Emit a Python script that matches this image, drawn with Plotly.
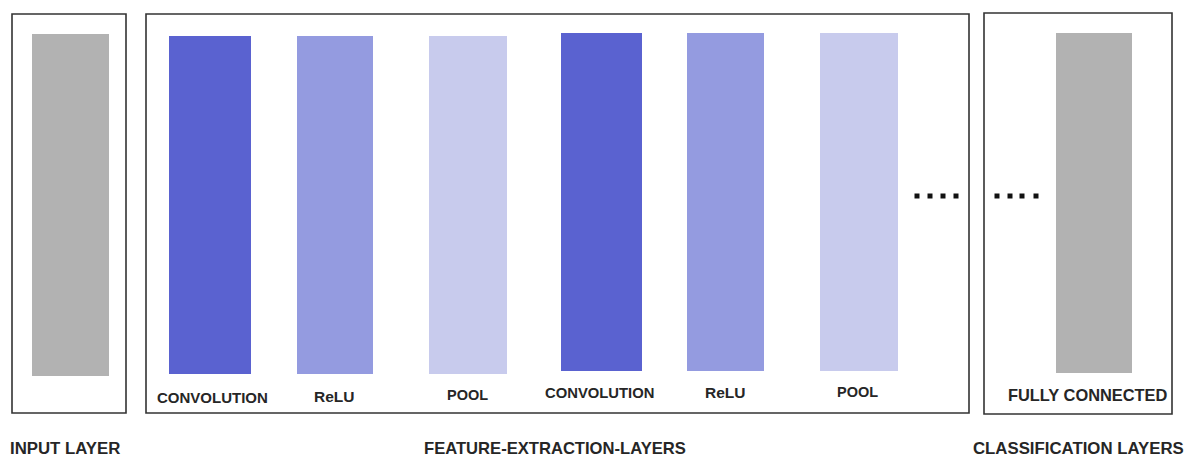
import plotly.graph_objects as go

# ---- data ----
layer_names = ["INPUT", "CONVOLUTION", "ReLU", "POOL", "CONVOLUTION", "ReLU", "POOL", "FULLY CONNECTED"]
layer_kind = ["input", "conv", "relu", "pool", "conv", "relu", "pool", "fc"]
bar_left = [32, 169, 297, 429, 561, 687, 820, 1056]
bar_right = [109, 251, 373, 507, 642, 764, 898, 1132]
bar_top = [34, 36, 36, 36, 33, 33, 33, 33]
bar_bottom = [376, 374, 374, 374, 371, 371, 371, 373]

label_text = ["CONVOLUTION", "ReLU", "POOL", "CONVOLUTION", "ReLU", "POOL", "FULLY CONNECTED"]
label_x = [212, 334, 467, 599, 725, 857, 1088]
label_y = [397, 396, 395, 393, 392, 392, 395]
label_size = [15, 15.5, 14.5, 14.8, 15.5, 14.5, 16.4]

group_names = ["INPUT LAYER", "FEATURE-EXTRACTION-LAYERS", "CLASSIFICATION LAYERS"]
group_box_x0 = [12, 146, 984]
group_box_x1 = [126, 969, 1172]
group_box_y0 = [14, 14, 13]
group_box_y1 = [413, 413, 414]
group_label_x = [65, 555, 1078]
group_label_y = [448, 448, 448]
group_label_size = [16.8, 16.6, 16.8]

dots_x = [917, 930, 943, 956, 997, 1010, 1022, 1036]
dots_y = [196] * 8

colors = {"input": "#b2b2b2", "conv": "#5a62d0", "relu": "#949be0",
          "pool": "#c8cbed", "fc": "#b2b2b2"}

fig = go.Figure()

fig.add_trace(go.Bar(
    x=[(l + r) / 2 for l, r in zip(bar_left, bar_right)],
    width=[r - l for l, r in zip(bar_left, bar_right)],
    base=bar_top,
    y=[b - t for t, b in zip(bar_top, bar_bottom)],
    marker=dict(color=[colors[k] for k in layer_kind], line=dict(width=0)),
    hovertext=layer_names,
    showlegend=False,
))

fig.add_trace(go.Scatter(
    x=dots_x, y=dots_y, mode="markers",
    marker=dict(symbol="square", size=5, color="#111111"),
    showlegend=False, hoverinfo="skip",
))

for x0, x1, y0, y1 in zip(group_box_x0, group_box_x1, group_box_y0, group_box_y1):
    fig.add_shape(type="rect", xref="x", yref="y", x0=x0, x1=x1, y0=y0, y1=y1,
                  line=dict(color="#333333", width=1.6), fillcolor="rgba(0,0,0,0)", layer="below")

font_family = "Liberation Sans, Arial, sans-serif"
for t, x, y, s in zip(label_text, label_x, label_y, label_size):
    fig.add_annotation(x=x, y=y, text=t, showarrow=False, xref="x", yref="y",
                       font=dict(family=font_family, size=s, color="#262626", weight="bold"),
                       xanchor="center", yanchor="middle")

for t, x, y, s in zip(group_names, group_label_x, group_label_y, group_label_size):
    fig.add_annotation(x=x, y=y, text=t, showarrow=False, xref="x", yref="y",
                       font=dict(family=font_family, size=s, color="#262626", weight="bold"),
                       xanchor="center", yanchor="middle")

fig.update_layout(
    width=1193, height=458,
    margin=dict(l=0, r=0, t=0, b=0),
    paper_bgcolor="white", plot_bgcolor="white",
    bargap=0,
    xaxis=dict(range=[0, 1193], visible=False, fixedrange=True),
    yaxis=dict(range=[458, 0], visible=False, fixedrange=True),
)

fig.write_html(
    "out.html",
    config={"displayModeBar": False},
    post_script="document.body.style.margin='0';document.body.style.overflow='hidden';",
)
